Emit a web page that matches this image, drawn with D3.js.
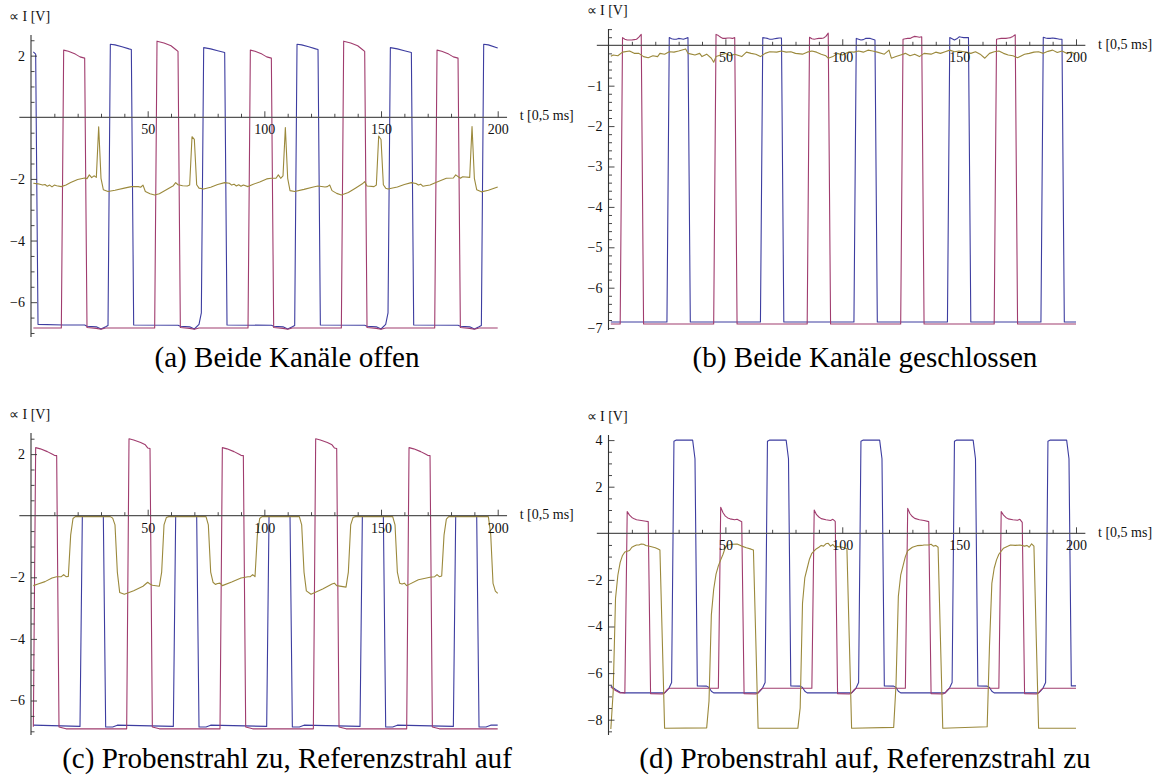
<!DOCTYPE html>
<html><head><meta charset="utf-8">
<script src="https://cdn.jsdelivr.net/npm/d3@7"></script>
<style>body{margin:0;background:#fff}svg{display:block}</style>
</head><body>
<svg id="chart" width="1163" height="778"></svg>
<script>
// ---------- data (t in units of 0.5 ms, value in V) ----------
const captions = ["(a) Beide Kanäle offen", "(b) Beide Kanäle geschlossen",
  "(c) Probenstrahl zu, Referenzstrahl auf", "(d) Probenstrahl auf, Referenzstrahl zu"];
const xMajorTicks = [50, 100, 150, 200];
const xMinorTicks = [10,20,30,40,60,70,80,90,110,120,130,140,160,170,180,190];
const yMajorA = [-6, -4, -2, 2];
const yMajorB = [-7, -6, -5, -4, -3, -2, -1];
const yMajorC = [-6, -4, -2, 2];
const yMajorD = [-8, -6, -4, -2, 2, 4];
const xLabel = "t [0,5 ms]";
const yLabel = "∝ I [V]";

const aBlue = [[1,2.12],[2,2.05],[3,-6.72],[14,-6.74],[23,-6.74],[24,-6.78],[28,-6.8],[30,-6.87],[32,-6.8],[33,-6.76],
 [34,2.37],[36,2.35],[39,2.29],[42,2.22],[43,2.2],[44,-6.74],[63,-6.75],[64,-6.78],[68,-6.8],[70,-6.87],[72,-6.72],[73,-6.35],
 [74,2.26],[77,2.22],[80,2.16],[83,2.1],[84,-6.74],[103,-6.75],[104,-6.78],[108,-6.8],[110,-6.87],[112,-6.8],[113,-6.76],
 [114,2.37],[116,2.35],[119,2.29],[122,2.22],[123,2.2],[124,-6.74],[143,-6.75],[144,-6.78],[148,-6.8],[150,-6.87],[152,-6.72],[153,-6.35],
 [154,2.26],[157,2.22],[160,2.16],[163,2.1],[164,-6.74],[183,-6.75],[184,-6.78],[188,-6.8],[190,-6.87],[192,-6.8],[193,-6.76],
 [194,2.37],[196,2.35],[200,2.25]];
const aMagenta = [[1,-6.84],[13,-6.84],[14,2.18],[16,2.14],[19,2.05],[21,1.96],[23,1.92],[24,-6.82],[28,-6.85],[30,-6.88],[32,-6.84],[53,-6.84],
 [54,2.47],[57,2.41],[60,2.32],[62,2.2],[63,2.14],[64,-6.82],[68,-6.85],[70,-6.88],[72,-6.84],[93,-6.84],
 [94,2.18],[96,2.14],[99,2.05],[101,1.96],[103,1.92],[104,-6.82],[108,-6.85],[110,-6.88],[112,-6.84],[133,-6.84],
 [134,2.47],[137,2.41],[140,2.32],[142,2.2],[143,2.14],[144,-6.82],[148,-6.85],[150,-6.88],[152,-6.84],[173,-6.84],
 [174,2.18],[176,2.14],[179,2.05],[181,1.96],[183,1.92],[184,-6.82],[188,-6.85],[190,-6.88],[192,-6.84],[200,-6.84]];
const aOlive = [[1,-2.14],[3,-2.16],[5,-2.2],[6,-2.18],[7,-2.24],[8,-2.2],[9,-2.26],[10,-2.2],[11,-2.22],[13,-2.25],[15,-2.2],[17,-2.12],
 [20,-2.02],[23,-1.97],[24,-1.99],[25,-1.87],[26,-1.96],[27,-1.9],[28,-1.95],[29,-0.31],[30,-1.98],[31,-2.35],[33,-2.41],[36,-2.37],
 [40,-2.3],[43,-2.25],[46,-2.25],[47,-2.27],[48,-2.2],[49,-2.41],[51,-2.48],[53,-2.52],[55,-2.48],[58,-2.35],[61,-2.22],[62,-2.12],
 [63,-2.19],[65,-2.22],[67,-2.23],[68,-2.2],[69,-0.63],[70,-0.72],[71,-2.19],[72,-2.3],[74,-2.33],[77,-2.27],[80,-2.18],[83,-2.12],
 [85,-2.14],[86,-2.2],[87,-2.17],[88,-2.23],[89,-2.19],[90,-2.24],[91,-2.2],[93,-2.25],[95,-2.18],[98,-2.1],[101,-2.0],[103,-1.98],
 [105,-1.98],[106,-1.87],[107,-1.98],[108,-1.9],[109,-0.33],[110,-1.98],[111,-2.38],[113,-2.41],[117,-2.34],[121,-2.26],[123,-2.23],
 [126,-2.26],[127,-2.25],[128,-2.2],[129,-2.38],[131,-2.47],[133,-2.52],[136,-2.44],[139,-2.3],[142,-2.16],[143,-2.09],[144,-2.23],
 [147,-2.25],[148,-2.2],[149,-0.61],[150,-0.72],[151,-2.19],[152,-2.3],[153,-2.33],[157,-2.26],[160,-2.18],[163,-2.12],[165,-2.15],
 [166,-2.2],[167,-2.17],[168,-2.24],[169,-2.22],[171,-2.2],[174,-2.1],[178,-1.98],[181,-1.97],[182,-1.87],[184,-1.98],[185,-1.93],
 [188,-1.95],[189,-0.3],[190,-1.98],[191,-2.35],[193,-2.42],[196,-2.37],[200,-2.26]];

const bBlue = [[1,-6.85],[25,-6.85],[26,0.19],[27,0.16],[28,0.15],[29,0.15],[30,0.17],[31,0.16],[32,0.15],[33,0.17],[34,0.19],[35,-6.85],
 [65,-6.85],[66,0.19],[67,0.18],[68,0.17],[69,0.15],[70,0.15],[71,0.16],[72,0.17],[73,0.18],[74,0.18],[75,-6.85],
 [105,-6.85],[106,0.17],[107,0.15],[108,0.13],[109,0.14],[110,0.17],[111,0.17],[112,0.17],[113,0.15],[114,0.13],[115,-6.85],
 [145,-6.85],[146,0.19],[147,0.16],[148,0.13],[149,0.16],[150,0.21],[151,0.2],[152,0.19],[153,0.19],[154,0.19],[155,-6.85],
 [185,-6.85],[186,0.2],[187,0.18],[188,0.17],[189,0.17],[190,0.18],[191,0.17],[192,0.16],[193,0.15],[194,0.15],[195,-6.85],[200,-6.85]];
const bMagenta = [[1,-6.9],[5,-6.9],[6,0.19],[7,0.15],[8,0.13],[9,0.13],[10,0.13],[11,0.14],[12,0.15],[13,0.2],[14,0.27],[15,-6.9],
 [45,-6.9],[46,0.27],[47,0.24],[48,0.2],[49,0.17],[50,0.17],[51,0.18],[52,0.18],[53,0.17],[54,0.19],[55,-6.9],
 [85,-6.9],[86,0.2],[87,0.16],[88,0.15],[89,0.16],[90,0.17],[91,0.17],[92,0.18],[93,0.22],[94,0.3],[95,-6.9],
 [125,-6.9],[126,0.15],[127,0.16],[128,0.17],[129,0.17],[130,0.2],[131,0.22],[132,0.21],[133,0.2],[134,0.21],[135,-6.9],
 [165,-6.9],[166,0.15],[167,0.16],[168,0.17],[169,0.17],[170,0.17],[171,0.18],[172,0.19],[173,0.22],[174,0.26],[175,-6.9],[200,-6.9]];
const bOlive = [[1,-0.27],[2,-0.24],[4,-0.26],[6,-0.17],[9,-0.14],[11,-0.2],[13,-0.2],[15,-0.28],[17,-0.31],[19,-0.26],[21,-0.28],[22,-0.2],
 [24,-0.22],[26,-0.16],[28,-0.17],[30,-0.14],[33,-0.09],[34,-0.2],[37,-0.24],[39,-0.2],[40,-0.28],[42,-0.22],[44,-0.32],[45,-0.42],
 [46,-0.28],[48,-0.24],[50,-0.2],[52,-0.26],[54,-0.22],[57,-0.28],[59,-0.17],[61,-0.2],[63,-0.22],[65,-0.28],[67,-0.2],[69,-0.16],
 [72,-0.17],[74,-0.14],[76,-0.17],[78,-0.16],[80,-0.2],[83,-0.22],[85,-0.17],[87,-0.14],[89,-0.17],[91,-0.22],[93,-0.26],[94,-0.32],
 [96,-0.28],[98,-0.2],[100,-0.24],[103,-0.16],[105,-0.17],[107,-0.14],[109,-0.17],[111,-0.12],[113,-0.14],[115,-0.17],[118,-0.22],
 [120,-0.12],[121,-0.32],[123,-0.28],[125,-0.24],[127,-0.2],[129,-0.26],[131,-0.22],[133,-0.28],[135,-0.2],[138,-0.22],[140,-0.17],
 [142,-0.2],[144,-0.16],[146,-0.12],[148,-0.16],[150,-0.14],[153,-0.17],[155,-0.2],[157,-0.16],[159,-0.22],[161,-0.32],[163,-0.2],
 [165,-0.16],[167,-0.14],[169,-0.2],[171,-0.24],[173,-0.26],[175,-0.31],[178,-0.22],[180,-0.2],[182,-0.17],[184,-0.16],[186,-0.2],
 [188,-0.15],[190,-0.12],[192,-0.18],[194,-0.14],[196,-0.2],[198,-0.17],[200,-0.22]];

const cBlue = [[1,-6.8],[21,-6.84],[22,-0.02],[31,-0.02],[32,-6.86],[35,-6.86],[37,-6.8],[61,-6.84],[62,-0.02],[71,-0.02],[72,-6.86],
 [75,-6.86],[77,-6.8],[101,-6.84],[102,-0.02],[111,-0.02],[112,-6.86],[115,-6.86],[117,-6.8],[141,-6.84],[142,-0.02],[151,-0.02],
 [152,-6.86],[155,-6.86],[157,-6.8],[181,-6.84],[182,-0.02],[191,-0.02],[192,-6.86],[195,-6.86],[197,-6.8],[200,-6.8]];
const cMagenta = [[1,-6.85],[2,2.21],[4,2.17],[7,2.08],[9,2.0],[10,1.96],[11,1.95],[12,-6.86],[15,-6.92],[41,-6.92],
 [42,2.5],[44,2.46],[47,2.38],[49,2.3],[50,2.2],[51,2.18],[52,-6.86],[55,-6.92],[81,-6.92],
 [82,2.21],[84,2.17],[87,2.08],[89,2.0],[90,1.96],[91,1.95],[92,-6.86],[95,-6.92],[121,-6.92],
 [122,2.5],[124,2.46],[127,2.38],[129,2.3],[130,2.2],[131,2.18],[132,-6.86],[135,-6.92],[161,-6.92],
 [162,2.21],[164,2.17],[167,2.08],[169,2.0],[170,1.96],[171,1.95],[172,-6.86],[175,-6.92],[200,-6.92]];
const cOlive = [[1,-2.27],[3,-2.22],[6,-2.14],[9,-2.02],[11,-1.98],[13,-1.98],[14,-1.91],[15,-1.98],[16,-1.97],[17,-0.63],[18,-0.09],
 [19,-0.03],[34,-0.03],[35,-0.08],[36,-0.3],[37,-1.83],[38,-2.49],[40,-2.55],[44,-2.44],[48,-2.29],[50,-2.16],[51,-2.22],[52,-2.26],
 [55,-2.29],[56,-1.83],[57,-0.3],[58,-0.06],[59,-0.03],[75,-0.03],[76,-0.3],[77,-1.83],[78,-2.16],[79,-2.23],[80,-2.2],[81,-2.19],
 [82,-2.27],[86,-2.15],[90,-2.02],[93,-1.98],[94,-1.98],[95,-1.91],[96,-1.98],[97,-0.63],[98,-0.09],[99,-0.03],[115,-0.03],[116,-0.3],
 [117,-1.83],[118,-2.44],[120,-2.55],[125,-2.38],[129,-2.22],[130,-2.19],[131,-2.27],[135,-2.32],[136,-1.83],[137,-0.3],[138,-0.06],
 [139,-0.03],[155,-0.03],[156,-0.3],[157,-1.83],[158,-2.19],[159,-2.22],[160,-2.19],[161,-2.27],[166,-2.08],[171,-2.0],[173,-1.98],
 [174,-1.91],[175,-1.98],[176,-1.96],[177,-0.63],[178,-0.11],[179,-0.03],[196,-0.03],[197,-0.6],[198,-2.2],[199,-2.45],[200,-2.52]];

const dBlue = [[1,-6.55],[3,-6.7],[5,-6.82],[7,-6.85],[24,-6.85],[25,-6.75],[26,-6.62],[27,-6.4],[28,3.95],[29,4.0],[36,4.0],[37,3.2],
 [38,-6.55],[42,-6.56],[43,-6.62],[44,-6.78],[45,-6.85],[64,-6.85],[65,-6.75],[66,-6.62],[67,-6.4],[68,3.95],[69,4.0],[76,4.0],[77,3.2],
 [78,-6.55],[82,-6.56],[83,-6.62],[84,-6.78],[85,-6.85],[104,-6.85],[105,-6.75],[106,-6.62],[107,-6.4],[108,3.95],[109,4.0],[116,4.0],[117,3.2],
 [118,-6.55],[122,-6.56],[123,-6.62],[124,-6.78],[125,-6.85],[144,-6.85],[145,-6.75],[146,-6.62],[147,-6.4],[148,3.95],[149,4.0],[156,4.0],[157,3.2],
 [158,-6.55],[162,-6.56],[163,-6.62],[164,-6.78],[165,-6.85],[184,-6.85],[185,-6.75],[186,-6.62],[187,-6.4],[188,3.95],[189,4.0],[196,4.0],[197,3.2],
 [198,-6.55],[200,-6.55]];
const dMagenta = [[1,-6.6],[3,-6.75],[5,-6.85],[7,-6.85],[8,0.93],[9,0.78],[10,0.68],[11,0.62],[12,0.58],[14,0.55],[16,0.52],[17,0.5],
 [18,-6.88],[23,-6.9],[24,-6.85],[25,-6.72],[26,-6.65],[47,-6.65],
 [48,1.12],[49,0.88],[50,0.74],[51,0.66],[52,0.62],[54,0.58],[55,0.6],[56,0.55],[57,0.5],
 [58,-6.88],[63,-6.9],[64,-6.85],[65,-6.72],[66,-6.65],[87,-6.65],
 [88,1.0],[89,0.8],[90,0.7],[91,0.63],[93,0.58],[95,0.55],[96,0.6],[97,0.51],
 [98,-6.88],[103,-6.9],[104,-6.85],[105,-6.72],[106,-6.65],[127,-6.65],
 [128,1.07],[129,0.84],[130,0.72],[131,0.64],[133,0.58],[135,0.55],[137,0.5],
 [138,-6.88],[143,-6.9],[144,-6.85],[145,-6.72],[146,-6.65],[167,-6.65],
 [168,0.93],[169,0.78],[170,0.68],[171,0.62],[173,0.58],[175,0.56],[176,0.6],[177,0.47],
 [178,-6.88],[183,-6.9],[184,-6.85],[185,-6.72],[186,-6.65],[200,-6.65]];
const dOlive = [[1,-8.4],[2,-6.8],[3,-2.8],[4,-1.8],[5,-1.25],[6,-0.95],[7,-0.8],[9,-0.74],[10,-0.6],[11,-0.55],[12,-0.5],[13,-0.5],
 [14,-0.46],[15,-0.47],[16,-0.52],[18,-0.57],[20,-0.62],[21,-0.66],[22,-0.72],[23,-4.5],[24,-8.37],[42,-8.35],[43,-7.2],[44,-3.5],
 [45,-2.4],[46,-1.75],[47,-1.4],[48,-1.14],[49,-0.9],[50,-0.6],[51,-0.5],[53,-0.47],[55,-0.46],[57,-0.55],[59,-0.62],[61,-0.68],
 [62,-0.72],[63,-4.5],[64,-8.37],[81,-8.37],[82,-7.5],[83,-3.0],[84,-1.9],[85,-1.5],[86,-1.1],[87,-0.86],[88,-0.75],[89,-0.66],
 [90,-0.6],[91,-0.52],[92,-0.55],[93,-0.45],[94,-0.43],[95,-0.55],[96,-0.48],[97,-0.6],[98,-0.57],[100,-0.6],[101,-0.63],[102,-0.66],
 [103,-4.5],[104,-8.37],[122,-8.33],[123,-6.5],[124,-2.7],[125,-1.8],[126,-1.4],[127,-1.0],[128,-0.75],[130,-0.6],[132,-0.53],
 [134,-0.52],[135,-0.5],[137,-0.5],[138,-0.47],[139,-0.55],[140,-0.52],[141,-0.6],[142,-4.5],[143,-8.37],[162,-8.3],[163,-4.8],
 [164,-2.15],[165,-1.5],[166,-1.14],[167,-0.9],[169,-0.64],[171,-0.55],[172,-0.5],[174,-0.52],[176,-0.5],[178,-0.55],[179,-0.52],
 [180,-0.6],[181,-0.45],[182,-0.55],[183,-4.5],[184,-8.37],[200,-8.37]];

// ---------- layout (positions and styles) ----------
const colors = ["rgb(61,61,160)", "rgb(160,60,110)", "rgb(155,137,60)"];
const panels = [
  {series:[aBlue,aMagenta,aOlive], yTicks:yMajorA, minorStep:0.5, cap:captions[0],
   xr:[31,497.7], yDom:[-7.13,2.67], yr:[337,35], capX:287, capY:367},
  {series:[bBlue,bMagenta,bOlive], yTicks:yMajorB, minorStep:0.2, cap:captions[1],
   xr:[608.5,1076], yDom:[-7.047,0.403], yr:[330,29], capX:865, capY:367},
  {series:[cBlue,cMagenta,cOlive], yTicks:yMajorC, minorStep:0.5, cap:captions[2],
   xr:[31,497.7], yDom:[-7.12,2.685], yr:[735,433], capX:287, capY:768},
  {series:[dBlue,dMagenta,dOlive], yTicks:yMajorD, minorStep:0.5, cap:captions[3],
   xr:[608.5,1076], yDom:[-8.657,4.219], yr:[735,435], capX:865, capY:768}
];

const svg = d3.select("#chart");
const serif = "'Liberation Serif','Times New Roman',serif";

// caption font size so that caption (c) is about 450 px wide
const probe = svg.append("text").attr("font-family", serif).attr("font-size", 26).text(captions[2]);
const capSize = 26 * 450 / probe.node().getComputedTextLength();
probe.remove();

panels.forEach(p => {
  const x = d3.scaleLinear().domain([0, 200]).range(p.xr);
  const y = d3.scaleLinear().domain(p.yDom).range(p.yr);
  const g = svg.append("g");
  const line = d3.line().x(d => x(d[0])).y(d => y(d[1]));

  // data
  p.series.forEach((s, i) => {
    g.append("path").datum(s).attr("d", line).attr("fill", "none")
      .attr("stroke", colors[i]).attr("stroke-width", 1.1).attr("stroke-linejoin", "round");
  });

  const y0 = y(0), x0 = x(0);
  // axis lines
  g.append("line").attr("x1", x(-5)).attr("x2", x(204)).attr("y1", y0).attr("y2", y0)
    .attr("stroke", "#555").attr("stroke-width", 1.3);
  g.append("line").attr("x1", x0).attr("x2", x0).attr("y1", p.yr[0]).attr("y2", p.yr[1])
    .attr("stroke", "#333").attr("stroke-width", 1.1);

  // x ticks (upward), labels below
  const xMaj = d3.axisBottom(x).tickValues(xMajorTicks).tickSize(-6).tickPadding(7).tickFormat(d3.format("d"));
  const gx = g.append("g").attr("transform", `translate(0,${y0})`).call(xMaj);
  const xMin = d3.axisBottom(x).tickValues(xMinorTicks).tickSize(-3.5).tickFormat("");
  const gx2 = g.append("g").attr("transform", `translate(0,${y0})`).call(xMin);

  // y ticks (rightward), labels left
  const lo = Math.ceil(p.yDom[0] / p.minorStep), hi = Math.floor(p.yDom[1] / p.minorStep);
  const minorVals = d3.range(lo, hi + 1).map(k => +(k * p.minorStep).toFixed(2))
    .filter(v => v !== 0 && !p.yTicks.includes(v));
  const yMaj = d3.axisLeft(y).tickValues(p.yTicks).tickSize(-6).tickPadding(6).tickFormat(d3.format("d"));
  const gy = g.append("g").attr("transform", `translate(${x0},0)`).call(yMaj);
  const yMin = d3.axisLeft(y).tickValues(minorVals).tickSize(-3.5).tickFormat("");
  const gy2 = g.append("g").attr("transform", `translate(${x0},0)`).call(yMin);

  [gx, gx2, gy, gy2].forEach(a => {
    a.select(".domain").remove();
    a.selectAll(".tick line").attr("stroke", "#333").attr("stroke-width", 0.9);
    a.selectAll("text").attr("font-family", serif).attr("font-size", 14).attr("fill", "#111");
  });

  // axis labels
  g.append("text").attr("x", x(200) + 22).attr("y", y0).attr("dominant-baseline", "middle")
    .attr("font-family", serif).attr("font-size", 14).attr("fill", "#111").text(xLabel);
  g.append("text").attr("x", x0 - 22).attr("y", p.yr[1] - 17).attr("dominant-baseline", "middle")
    .attr("font-family", serif).attr("font-size", 14).attr("fill", "#111").text(yLabel);

  // caption
  g.append("text").attr("x", p.capX).attr("y", p.capY).attr("text-anchor", "middle")
    .attr("font-family", serif).attr("font-size", capSize).attr("fill", "#000").text(p.cap);
});
</script>
</body></html>
